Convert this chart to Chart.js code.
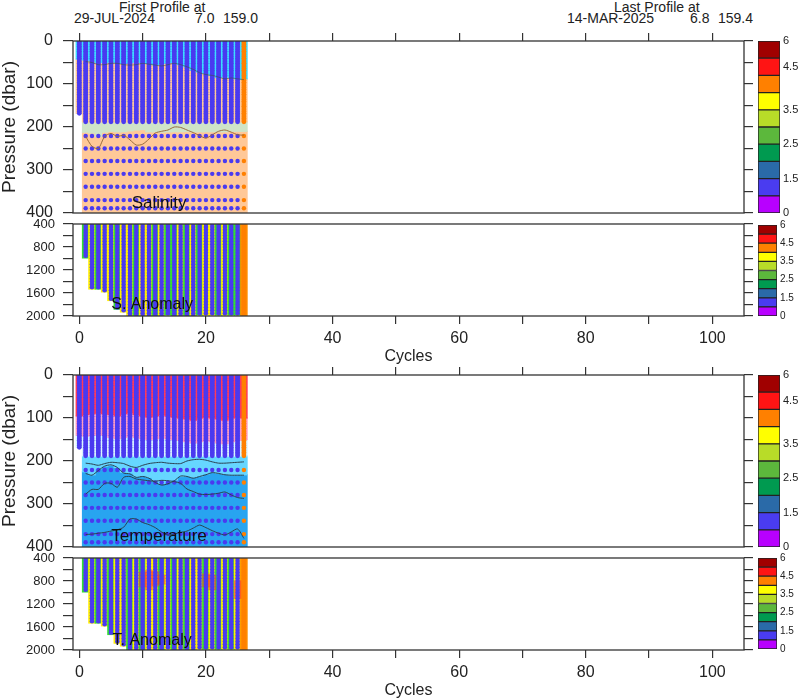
<!DOCTYPE html>
<html>
<head>
<meta charset="utf-8">
<script src="https://cdn.jsdelivr.net/npm/chart.js@4.4.1/dist/chart.umd.min.js"></script>
<style>
  body { margin: 0; background: #fff; }
  #page { position: relative; width: 800px; height: 700px; overflow: hidden;
          font-family: 'Liberation Sans', Arial, sans-serif; color: #222; }
  canvas { position: absolute; }
  .hdr { position: absolute; font-size: 14px; line-height: 14px; white-space: pre; }
</style>
</head>
<body>
<div id="page">
  <div class="hdr" style="left:119px;top:0px">First Profile at</div>
  <div class="hdr" style="left:74px;top:11px">29-JUL-2024</div>
  <div class="hdr" style="left:195px;top:11px">7.0</div>
  <div class="hdr" style="left:223px;top:11px">159.0</div>
  <div class="hdr" style="left:614px;top:0px">Last Profile at</div>
  <div class="hdr" style="left:567px;top:11px">14-MAR-2025</div>
  <div class="hdr" style="left:690px;top:11px">6.8</div>
  <div class="hdr" style="left:718px;top:11px">159.4</div>

  <canvas id="salPanel" width="800" height="237" style="left:0;top:0"></canvas>
  <canvas id="sanPanel" width="800" height="162" style="left:0;top:206px"></canvas>
  <canvas id="tmpPanel" width="800" height="237" style="left:0;top:334px"></canvas>
  <canvas id="tanPanel" width="800" height="162" style="left:0;top:540px"></canvas>

  <canvas id="cbSal" width="50" height="195" style="left:750px;top:30px"></canvas>
  <canvas id="cbSan" width="50" height="111" style="left:750px;top:215px"></canvas>
  <canvas id="cbTmp" width="50" height="195" style="left:750px;top:364px"></canvas>
  <canvas id="cbTan" width="50" height="111" style="left:750px;top:548px"></canvas>
</div>
<script>
// ---- data ----
const cycles = [0,1,2,3,4,5,6,7,8,9,10,11,12,13,14,15,16,17,18,19,20,21,22,23,24,25,26];

// sampling levels (dbar)
const denseLevels = [0,4,8,12,16,20,24,28,32,36,40,44,48,52,56,60,64,68,72,76,80,84,88,92,
                     96,100,104,108,112,116,120,124,128,132,136,140,144,148,152,156,160,164,
                     168,172,176,180,184,188];
const deepLevels = [221,250,279,309,339,370,389];
const anomLevels = [400,450,500,550,600,650,700,750,800,850,900,950,1000,1050,1100,1150,1200,
                    1250,1300,1350,1400,1450,1500,1550,1600,1650,1700,1750,1800,1850,1900,1950,2000];

// deepest dense sample and deepest profile level per cycle
const denseBottom = [168,188,188,188,188,188,188,188,188,188,188,188,188,188,188,188,188,188,188,188,188,188,188,188,188,188,188];
const anomBottom = [null,960,1500,1500,1550,1700,1850,1900,2000,2000,2000,2000,2000,2000,1950,2000,2000,2000,2000,1950,1950,1950,1950,1950,1950,1950,2000];

// salinity field boundaries
const salCyanBottom = [42,44,46,50,50,48,50,52,50,48,50,52,55,52,50,50,55,60,68,72,75,80,85,82,85,88,88];
const salGreenBottom = [null,212,214,222,212,210,211,211,209,207,206,211,211,212,211,211,211,210,211,211,211,211,211,211,210,210,210];
const salContour = [222,245,250,222,215,222,219,230,242,240,228,214,210,207,200,201,207,213,220,226,218,210,207,212,218,219];
const salUpperContour = [48,50,55,55,52,52,55,56,55,52,54,56,58,55,52,55,60,66,74,78,80,84,88,86,88,90];

// temperature field boundaries
const tRedBottom = [95,92,90,88,90,92,95,90,88,92,95,98,95,92,95,98,100,102,105,100,98,100,102,105,100,98,100];
const tPinkBottom = [140,142,140,138,140,145,148,145,142,145,148,150,148,145,148,150,152,155,158,155,152,155,158,160,155,152,150];
const tLightBottom = [null,225,232,218,212,210,215,226,228,236,234,238,246,252,250,244,236,235,238,235,230,226,228,230,232,232,232];
const tempContourA = [205,207,210,206,203,204,206,212,215,210,206,204,203,205,206,206,200,197,196,198,202,205,205,204,203,202];
const tempContourB = [229,233,222,212,209,215,228,230,238,236,240,250,256,253,246,235,236,240,236,232,227,229,232,233,233,233];
const tempContourC = [277,266,266,252,252,261,238,236,242,244,246,247,245,246,248,252,265,271,277,278,277,275,272,279,285,287];
const tempContourD = [371,370,368,366,363,360,354,335,335,343,348,355,365,372,370,366,363,356,349,355,362,368,372,365,358,380];

// anomaly values per cycle
const sAnomVal = [null,2.7,3.8,2.7,3.8,3.8,2.7,3.8,3.8,2.7,3.8,3.8,2.7,3.8,2.7,2.7,3.8,2.7,3.8,2.7,3.8,3.8,2.7,3.8,2.7,2.7,4.5];
const tAnomVal = [null,2.7,3.8,2.7,3.8,2.7,3.8,3.8,2.7,3.8,2.7,3.8,3.8,2.7,3.8,2.7,3.8,2.7,3.8,3.8,2.7,3.8,2.7,3.8,2.7,3.8,4.5];
const tWarmTop = [null,null,null,null,null,null,null,null,null,null,650,620,640,700,null,null,null,null,null,null,680,700,null,null,null,800,null];
const tWarmBottom = [null,null,null,null,null,null,null,null,null,null,900,950,880,850,null,null,null,null,null,null,900,950,null,null,null,1100,null];
const tWarmVal = 5.0;

// axes
const cycleTicks = [0,10,20,30,40,50,60,70,80,90,100];
const cycleLabels = [0,20,40,60,80,100];
const upperYTicks = [0,50,100,150,200,250,300,350,400];
const upperYLabels = [0,100,200,300,400];
const lowerYTicks = [400,600,800,1000,1200,1400,1600,1800,2000];
const lowerYLabels = [400,800,1200,1600,2000];

// colour bars
const cbEdges = [0,1,2,3,4,5,6,7,8,9,10];
const cbTickPos = [0,2,4,6,8.5,10];
const cbTickPosSmall = [0,2,4,6,8,10];
const cbTickLabels = ['0','1.5','2.5','3.5','4.5','6'];

// ---- styles ----
Chart.defaults.font.family = "'Liberation Sans', Arial, sans-serif";
Chart.defaults.color = '#222';
const INK = '#333';
const BLUE = '#4a3af0';
const LAST = '#ff8000';
const cbColors = ['#b800ff','#4a3cf0','#2a6aa8','#009a50','#5cb83c','#b8dc28','#ffff00','#ff8000','#ff1414','#a00000'];
const fieldPalette = ['#b800ff','#4a3cf0','#2a6aa8','#00b050','#33dd33','#b4dc28','#ffee00','#ff8c00','#ff3030','#a00000'];
const lastCycle = cycles[cycles.length - 1];

function fieldColor(v) {
    return fieldPalette[Math.min(9, Math.floor(v / 0.6))];
}

// filled field: one floating bar per cycle
function band(tops, bottoms, colorAt, order) {
    const data = [], colors = [];
    cycles.forEach((c, i) => {
        const t = Array.isArray(tops) ? tops[i] : tops;
        const b = Array.isArray(bottoms) ? bottoms[i] : bottoms;
        if (t == null || b == null) return;
        data.push({ x: c, y: [t, b] });
        colors.push(colorAt(i));
    });
    return { type: 'bar', data, backgroundColor: colors, borderWidth: 0, grouped: false,
             barPercentage: 1, categoryPercentage: 1, inflateAmount: 0.6, clip: 0, order: order || 3 };
}

// profile samples as dots
function columnDots(levels, bottoms, radius) {
    const data = [], colors = [];
    cycles.forEach((c, i) => {
        const b = bottoms[i];
        if (b == null) return;
        levels.forEach(p => {
            if (p <= b) {
                data.push({ x: c, y: p });
                colors.push(c === lastCycle ? LAST : BLUE);
            }
        });
    });
    return { type: 'scatter', data, pointRadius: radius, pointBorderWidth: 0,
             pointBackgroundColor: colors, clip: 0, order: 1 };
}

function contour(vals, color) {
    return { type: 'line', data: vals.map((v, i) => ({ x: cycles[i + 1], y: v })),
             borderColor: color, borderWidth: 1, pointRadius: 0, tension: 0.25, clip: 0, order: 0 };
}

const deepBottom = cycles.map((c, i) => anomBottom[i] == null ? null : 400);
const anomFillBottom = cycles.map((c, i) => anomBottom[i] == null ? null : anomBottom[i] + 30);

// frame around plot area
const frame = {
    id: 'frame',
    afterDraw(chart) {
        const { ctx, chartArea: a } = chart;
        ctx.save();
        ctx.strokeStyle = INK;
        ctx.lineWidth = 1.3;
        ctx.strokeRect(a.left, a.top, a.right - a.left, a.bottom - a.top);
        ctx.restore();
    }
};

// name written inside each panel
const panelText = {
    id: 'panelText',
    afterDatasetsDraw(chart, args, opts) {
        const { ctx, scales } = chart;
        ctx.save();
        ctx.font = opts.font;
        ctx.fillStyle = '#111';
        ctx.textAlign = 'center';
        ctx.textBaseline = 'middle';
        ctx.fillText(opts.text, scales.x.getPixelForValue(opts.x), scales.y.getPixelForValue(opts.y));
        ctx.restore();
    }
};

function tickGrid(len) {
    return { drawOnChartArea: false, drawTicks: true, tickLength: len, color: INK, lineWidth: 1.2, offset: false };
}

function panelChart(id, datasets, upper, label) {
    const yTicks = upper ? upperYTicks : lowerYTicks;
    const yLabels = upper ? upperYLabels : lowerYLabels;
    const yMin = upper ? 0 : 400, yMax = upper ? 400 : 2000;
    return new Chart(document.getElementById(id), {
        type: 'scatter',
        data: { datasets },
        options: {
            responsive: false, animation: false, events: [], devicePixelRatio: 1,
            layout: { padding: upper ? { top: 33, bottom: 24, left: 0, right: 46 }
                                     : { top: 18, bottom: 2, left: 0, right: 46 } },
            plugins: { legend: { display: false }, tooltip: { enabled: false }, panelText: label },
            scales: {
                x: {
                    type: 'linear', position: upper ? 'top' : 'bottom', min: -1, max: 105, offset: false,
                    afterBuildTicks: s => { s.ticks = cycleTicks.map(v => ({ value: v })); },
                    afterFit: s => { s.height = upper ? 8 : 50; },
                    grid: tickGrid(8), border: { display: false },
                    ticks: { display: !upper, autoSkip: false, maxRotation: 0, padding: 5,
                             font: { size: 16 }, color: '#222',
                             callback: v => cycleLabels.includes(v) ? String(v) : '' },
                    title: { display: !upper, text: 'Cycles', font: { size: 16, lineHeight: 1.2 },
                             padding: 0, color: '#222' }
                },
                y: {
                    type: 'linear', position: 'left', reverse: true, min: yMin, max: yMax,
                    afterBuildTicks: s => { s.ticks = yTicks.map(v => ({ value: v })); },
                    afterFit: s => { s.width = 73; },
                    grid: tickGrid(10), border: { display: false },
                    ticks: { autoSkip: false, padding: upper ? 10 : 8, font: { size: upper ? 16 : 13 },
                             color: '#222', callback: v => yLabels.includes(v) ? String(v) : '' },
                    title: { display: upper, text: 'Pressure (dbar)', font: { size: 19, lineHeight: 1 },
                             padding: 0, color: '#222' }
                },
                y2: {
                    type: 'linear', position: 'right', reverse: true, min: yMin, max: yMax,
                    afterBuildTicks: s => { s.ticks = yTicks.map(v => ({ value: v })); },
                    afterFit: s => { s.width = 10; },
                    grid: tickGrid(9), border: { display: false },
                    ticks: { display: false }
                }
            }
        },
        plugins: [frame, panelText]
    });
}

function colorbar(id, padTop, padBottom, axisWidth, fontSize, tickPos) {
    return new Chart(document.getElementById(id), {
        type: 'bar',
        data: {
            labels: [''],
            datasets: cbColors.map((c, i) => ({
                data: [[cbEdges[i], cbEdges[i + 1]]], backgroundColor: c, borderColor: '#222',
                borderWidth: 1, borderSkipped: false, grouped: false,
                barPercentage: 1, categoryPercentage: 1
            }))
        },
        options: {
            responsive: false, animation: false, events: [], devicePixelRatio: 1,
            layout: { padding: { top: padTop, bottom: padBottom, left: 8, right: 0 } },
            plugins: { legend: { display: false }, tooltip: { enabled: false } },
            scales: {
                x: { display: false },
                y: {
                    position: 'right', min: 0, max: 10,
                    afterBuildTicks: s => { s.ticks = tickPos.map(v => ({ value: v })); },
                    afterFit: s => { s.width = axisWidth; },
                    grid: { display: false, drawTicks: false }, border: { display: false },
                    ticks: { autoSkip: false, padding: 3, font: { size: fontSize }, color: '#222',
                             callback: (v, i) => cbTickLabels[i] }
                }
            }
        }
    });
}

// ---- Salinity ----
panelChart('salPanel', [
    contour(salContour, '#9a6a3a'),
    contour(salUpperContour, 'rgba(60,80,70,0.6)'),
    columnDots(denseLevels, denseBottom, 2.4),
    columnDots(deepLevels, deepBottom, 2.2),
    band(0, salCyanBottom, () => '#3cdcff'),
    band(salCyanBottom, denseBottom, () => '#ffc898'),
    band(denseBottom, salGreenBottom, () => '#cfe4c8'),
    band(salGreenBottom, 400, () => '#ffc898')
], true, { text: 'Salinity', x: 12.6, y: 377, font: "17px 'Liberation Sans', Arial, sans-serif" });

// ---- S. Anomaly ----
panelChart('sanPanel', [
    columnDots(anomLevels, anomBottom, 2.3),
    band(400, anomFillBottom, i => fieldColor(sAnomVal[i]))
], false, { text: 'S. Anomaly', x: 11.5, y: 1810, font: "16px 'Liberation Sans', Arial, sans-serif" });

// ---- Temperature ----
panelChart('tmpPanel', [
    contour(tempContourA, '#2c4250'),
    contour(tempContourB, '#2c4250'),
    contour(tempContourC, '#2c4250'),
    contour(tempContourD, '#2c4250'),
    columnDots(denseLevels, denseBottom, 2.4),
    columnDots(deepLevels, deepBottom, 2.2),
    band(0, tRedBottom, () => '#ff3a5a'),
    band(tRedBottom, tPinkBottom, () => '#ff9cc0'),
    band(tPinkBottom, denseBottom, () => '#d8f3ff'),
    band(denseBottom, tLightBottom, () => '#66d6ff'),
    band(tLightBottom, 400, () => '#28a4f0')
], true, { text: 'Temperature', x: 12.6, y: 375, font: "17px 'Liberation Sans', Arial, sans-serif" });

// ---- T. Anomaly ----
const warmPatch = band(tWarmTop, tWarmBottom, () => fieldColor(tWarmVal), 2);
warmPatch.backgroundColor = warmPatch.backgroundColor.map(() => 'rgba(255,48,48,0.55)');
panelChart('tanPanel', [
    columnDots(anomLevels, anomBottom, 2.3),
    warmPatch,
    band(400, anomFillBottom, i => fieldColor(tAnomVal[i]))
], false, { text: 'T. Anomaly', x: 11.5, y: 1840, font: "16px 'Liberation Sans', Arial, sans-serif" });

// ---- colour bars ----
colorbar('cbSal', 11, 12, 20, 11, cbTickPos);
colorbar('cbSan', 10, 10, 23, 10, cbTickPosSmall);
colorbar('cbTmp', 11, 12, 20, 11, cbTickPos);
colorbar('cbTan', 10, 10, 23, 10, cbTickPosSmall);
</script>
</body>
</html>
